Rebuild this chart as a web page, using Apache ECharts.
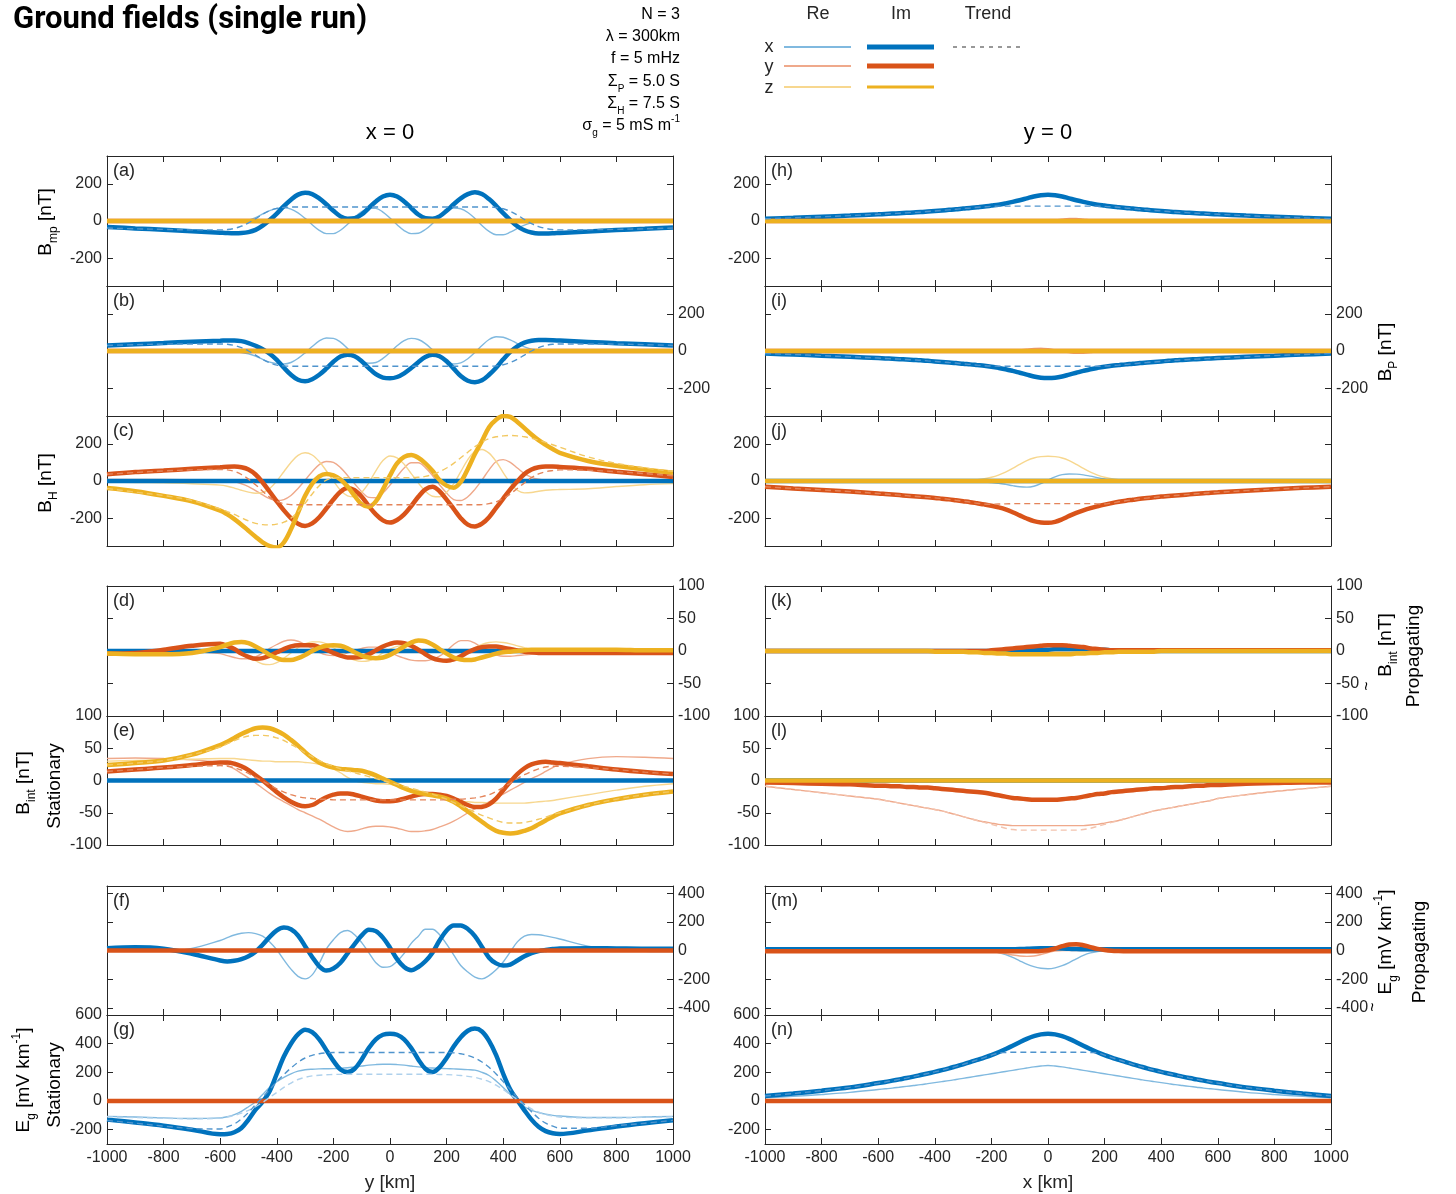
<!DOCTYPE html>
<html><head><meta charset="utf-8">
<script src="https://cdn.jsdelivr.net/npm/echarts@6/dist/echarts.min.js"></script>
<style>html,body{margin:0;padding:0;background:#fff}#c{width:1456px;height:1194px}</style>
</head><body><div id="c"></div>
<script>
// ---------------- DATA ----------------
const X = [-1000,-900,-800,-700,
-600,-575,-550,-525,-500,-475,-450,-425,-400,-375,-350,-325,
-300,-275,-250,-225,-200,-175,-150,-125,-100,-75,-50,-25,
0,25,50,75,100,125,150,175,200,225,250,275,
300,325,350,375,400,425,450,475,500,525,550,575,
600,
700,800,900,1000];
const ZERO = [0,0,0,0, 0,0,0,0,0,0,0,0,0,0,0,0, 0,0,0,0,0,0,0,0,0,0,0,0, 0,0,0,0,0,0,0,0,0,0,0,0, 0,0,0,0,0,0,0,0,0,0,0,0, 0, 0,0,0,0];

// (a) B_mp, x = 0
const a_ImX = [-32,-40,-47,-55,
-63,-65,-66,-65,-60,-48,-25,5,40,80,115,142,
152,145,122,90,55,25,12,15,35,70,105,132,
142,132,105,70,35,15,12,25,55,90,122,145,
155,145,118,82,42,5,-28,-50,-62,-67,-67,-66,
-64,
-57,-49,-42,-35];
const a_ReX = [-3,-3,-3,-3,
-3,-3,-2,0,5,18,38,56,67,71,64,44,
14,-20,-50,-68,-68,-50,-18,20,50,68,68,48,
16,-20,-52,-68,-66,-46,-14,24,54,70,66,46,
14,-24,-56,-74,-74,-60,-40,-22,-10,-3,0,0,
0,
0,0,0,0];
const a_TrX = [-38,-42,-45,-48,
-48,-46,-40,-28,-10,12,36,56,68,73,75,75,
75,75,75,75,75,75,75,75,75,75,75,75,
75,75,75,75,75,75,75,75,75,75,75,75,
75,75,75,73,66,52,32,8,-14,-30,-40,-46,
-48,
-47,-45,-42,-38];

// (b) B_P, x = 0
const b_ImX = [29,36,43,50,
55,57,57,53,43,28,10,-15,-48,-90,-128,-155,
-163,-152,-128,-95,-58,-30,-20,-28,-55,-92,-125,-143,
-147,-140,-120,-92,-60,-32,-20,-28,-55,-95,-135,-160,
-168,-158,-128,-90,-45,-5,25,45,55,59,59,58,
56,
49,42,36,29];
const b_ReX = [2,2,2,2,
0,-2,-4,-8,-15,-28,-45,-60,-68,-70,-62,-40,
-10,24,54,70,68,48,14,-22,-52,-66,-62,-40,
-8,28,56,68,62,40,6,-30,-58,-70,-64,-42,
-8,30,62,77,74,60,40,22,10,4,1,0,
0,
0,0,0,0];
const b_TrX = [30,34,37,38,
38,36,30,18,0,-22,-45,-64,-76,-80,-82,-82,
-82,-82,-82,-82,-82,-82,-82,-82,-82,-82,-82,-82,
-82,-82,-82,-82,-82,-82,-82,-82,-82,-82,-82,-82,
-82,-82,-82,-80,-74,-62,-44,-22,0,18,30,36,
38,
38,37,34,30];

// (c) B_H, x = 0
const c_ImY = [36,48,56,66,
74,77,78,74,62,35,-8,-58,-110,-158,-200,-230,
-242,-228,-195,-148,-100,-58,-38,-50,-85,-135,-180,-212,
-224,-210,-180,-135,-85,-45,-31,-55,-100,-150,-200,-235,
-245,-230,-195,-145,-95,-45,-2,38,62,74,78,78,
76,
66,50,36,22];
const c_ImZ = [-38,-55,-80,-110,
-160,-180,-205,-235,-268,-300,-330,-350,-358,-330,-260,-170,
-80,-15,25,38,30,8,-30,-80,-125,-138,-110,-45,
30,95,130,140,125,95,55,5,-25,-36,-5,65,
145,215,290,330,350,345,318,285,250,220,195,172,
152,
108,82,62,45];
const c_ReY = [8,8,8,6,
2,0,-5,-15,-30,-52,-75,-95,-105,-100,-78,-40,
5,50,88,105,100,72,30,-15,-58,-88,-90,-65,
-22,25,70,98,98,72,30,-20,-65,-100,-105,-85,
-45,5,60,105,115,100,70,40,20,10,5,3,
2,
1,0,0,0];
const c_ReZ = [-5,-8,-10,-15,
-22,-28,-38,-50,-60,-66,-62,-40,0,50,100,138,
152,140,105,55,0,-50,-80,-85,-60,-10,55,110,
135,125,90,40,-10,-55,-82,-85,-60,-15,50,115,
160,170,150,105,45,-10,-50,-64,-62,-55,-50,-47,
-46,
-42,-30,-20,-14];
const c_TrY = [36,46,54,60,
62,60,52,35,10,-20,-55,-88,-110,-122,-127,-128,
-128,-128,-128,-128,-128,-128,-128,-128,-128,-128,-128,-128,
-128,-128,-128,-128,-128,-128,-128,-128,-128,-128,-128,-128,
-128,-127,-122,-112,-95,-70,-40,-10,18,38,50,56,
60,
58,50,40,28];
const c_TrZ = [-40,-60,-78,-105,
-150,-165,-180,-198,-215,-228,-235,-236,-232,-222,-200,-165,
-120,-70,-25,5,15,18,18,18,18,18,18,18,
18,18,18,18,20,25,35,50,70,95,125,155,
185,210,228,238,243,245,243,238,230,220,208,195,
182,
130,95,70,52];

// (d) B_int propagating, x = 0
const d_ImZ = [-4,-5,-5,-3,
6,10,13,14,12,7,1,-6,-11,-14,-14,-11,
-6,0,5,8,9,8,4,-2,-7,-10,-11,-10,
-6,0,7,13,16,15,10,3,-4,-10,-13,-14,
-13,-10,-7,-4,-2,-1,0,1,2,2,2,2,
2,
2,2,1,1];
const d_ImY = [-4,-3,2,8,
11,8,3,-4,-9,-12,-11,-7,-2,3,7,9,
9,9,6,2,-3,-7,-10,-10,-9,-5,1,7,
11,13,12,8,2,-5,-11,-14,-15,-13,-8,-2,
3,6,7,7,5,3,1,-1,-2,-3,-3,-3,
-3,
-3,-3,-3,-3];
const d_ReY = [0,0,0,-1,
-4,-7,-10,-12,-12,-9,-3,4,10,15,17,15,
10,4,-2,-6,-7,-6,-3,1,4,6,6,3,
-2,-7,-11,-14,-15,-15,-13,-8,0,10,16,16,
12,5,-2,-6,-8,-8,-7,-6,-5,-4,-3,-2,
-2,
-1,0,0,0];
const d_ReZ = [-2,-2,-1,0,
2,2,0,-4,-9,-15,-20,-21,-18,-11,-3,5,
11,14,14,11,5,-2,-9,-14,-16,-15,-10,-3,
3,7,9,9,5,-2,-9,-15,-17,-15,-9,-2,
5,10,13,14,13,11,8,5,2,0,-1,-1,
-1,
0,0,0,0];

// (e) B_int stationary, x = 0
const e_ImZ = [24,27,31,40,
55,60,66,72,77,81,82,81,77,71,63,54,
44,35,28,23,20,18,17,16,15,12,8,3,
-2,-7,-12,-16,-19,-21,-23,-25,-28,-33,-40,-48,
-56,-64,-72,-78,-81,-82,-81,-78,-74,-68,-62,-56,
-51,
-38,-29,-22,-17];
const e_ImY = [14,17,20,24,
28,28,26,22,16,8,0,-9,-18,-26,-33,-38,
-40,-38,-32,-26,-22,-20,-20,-22,-25,-28,-31,-32,
-32,-31,-28,-25,-22,-21,-21,-22,-24,-28,-33,-38,
-41,-41,-37,-28,-15,-2,10,19,25,28,29,28,
27,
22,17,13,10];
const e_ReY = [34,35,34,32,
28,24,18,11,4,-4,-12,-20,-27,-33,-39,-45,
-50,-55,-60,-66,-72,-77,-79,-78,-75,-72,-71,-71,
-72,-74,-77,-79,-79,-78,-76,-72,-68,-63,-57,-50,
-44,-38,-33,-27,-21,-15,-9,-3,3,8,14,20,
25,
34,37,36,34];
const e_ReZ = [30,31,32,33,
34,34,34,33,32,31,30,30,29,29,29,29,
28,27,25,22,18,12,5,0,-3,-4,-5,-5,
-6,-8,-11,-14,-16,-18,-20,-23,-26,-29,-32,-33,
-34,-34,-35,-35,-35,-35,-35,-35,-34,-33,-32,-31,
-29,
-22,-15,-9,-5];
const e_TrImZ = [24,27,31,40,
52,57,62,66,69,70,70,69,66,62,56,50,
43,37,31,26,22,18,15,12,9,6,3,0,
-3,-6,-9,-12,-15,-18,-21,-25,-29,-34,-39,-44,
-49,-54,-58,-62,-65,-66,-66,-65,-63,-60,-57,-53,
-50,
-38,-29,-22,-17];
const e_TrImY = [14,17,20,22,
23,22,20,16,11,5,-1,-7,-13,-18,-22,-25,
-27,-28,-29,-29,-30,-30,-30,-30,-30,-30,-30,-30,
-30,-30,-30,-30,-30,-30,-30,-30,-30,-29,-29,-28,
-27,-25,-22,-17,-11,-4,3,9,14,18,21,22,
22,
20,17,13,10];

// (f) E_g propagating, x = 0
const f_ImX = [16,22,12,-23,
-70,-77,-72,-60,-40,-8,40,95,140,160,148,105,
30,-45,-110,-140,-125,-85,-20,45,105,145,135,90,
20,-60,-115,-138,-115,-75,-15,70,140,175,175,150,
100,25,-50,-90,-105,-98,-70,-40,-18,-4,4,10,
14,
16,14,12,12];
const f_ReX = [0,-3,-5,15,
70,90,108,120,125,118,100,60,5,-65,-130,-180,
-198,-170,-90,10,75,125,140,110,55,-15,-85,-117,
-112,-75,-20,50,100,148,148,110,45,-30,-105,-150,
-185,-198,-175,-135,-80,-10,60,100,112,110,102,92,
80,
30,5,-5,-7];

// (g) E_g stationary, x = 0
const g_ImX = [-130,-150,-172,-200,
-232,-230,-218,-188,-130,-60,-5,70,190,310,400,465,
497,480,430,355,280,220,202,225,290,370,430,462,
470,462,430,370,290,225,202,235,300,380,445,490,
505,485,420,320,190,80,5,-65,-130,-180,-210,-225,
-230,
-205,-178,-155,-135];
const g_ReX = [-107,-112,-118,-122,
-118,-110,-95,-72,-40,-5,45,95,135,165,190,208,
218,222,224,225,226,228,232,238,244,250,254,256,
256,254,250,244,238,233,230,228,226,224,222,219,
215,200,178,140,95,45,-5,-40,-65,-80,-92,-100,
-105,
-115,-115,-112,-107];
const g_TrImX = [-135,-155,-175,-192,
-195,-180,-160,-125,-80,-25,25,80,135,185,230,270,
300,318,330,336,338,338,338,338,338,338,338,338,
338,338,338,338,338,338,338,338,338,336,330,318,
300,272,235,188,135,80,25,-25,-75,-120,-155,-175,
-190,
-190,-172,-155,-135];
const g_TrReX = [-110,-115,-120,-125,
-120,-112,-100,-85,-65,-40,-10,25,60,95,125,150,
165,175,180,183,185,186,187,187,187,187,187,187,
187,187,187,187,187,187,186,185,184,182,178,172,
165,152,135,110,80,45,10,-25,-55,-78,-95,-105,
-112,
-118,-118,-114,-110];

// (h) B_mp, y = 0
const h_ImX = [12,17,23,29,
36,38,40,42,44,46,48,51,54,57,60,63,
67,70,74,78,83,88,95,103,112,122,132,139,
141,139,132,122,112,103,95,88,83,78,74,70,
67,63,60,57,54,51,48,46,44,42,40,38,
36,
29,23,17,12];
const h_TrImX = [12,17,23,29,
36,38,40,42,44,46,48,51,54,57,60,63,
67,70,74,77,79,80,80,80,80,80,80,80,
80,80,80,80,80,80,80,80,79,77,74,70,
67,63,60,57,54,51,48,46,44,42,40,38,
36,
29,23,17,12];
const h_ReY = [0,0,0,0,
0,0,0,0,0,0,0,0,0,0,0,0,
0,0,0,0,0,0,0,0,-2,-4,-5,-3,
0,5,10,14,14,10,5,2,0,0,0,0,
0,0,0,0,0,0,0,0,0,0,0,0,
0,
0,0,0,0];

// (i) B_P, y = 0
const i_ImX = [-14,-19,-25,-31,
-38,-40,-42,-44,-46,-48,-50,-53,-56,-59,-62,-65,
-69,-72,-76,-80,-85,-91,-98,-107,-117,-127,-137,-144,
-146,-144,-137,-127,-117,-107,-98,-91,-85,-80,-76,-72,
-69,-65,-62,-59,-56,-53,-50,-48,-46,-44,-42,-40,
-38,
-31,-25,-19,-14];
const i_TrImX = [-14,-19,-25,-31,
-38,-40,-42,-44,-46,-48,-50,-53,-56,-59,-62,-65,
-69,-72,-76,-79,-81,-82,-82,-82,-82,-82,-82,-82,
-82,-82,-82,-82,-82,-82,-82,-82,-81,-79,-76,-72,
-69,-65,-62,-59,-56,-53,-50,-48,-46,-44,-42,-40,
-38,
-31,-25,-19,-14];
const i_ReY = [0,0,0,0,
0,0,0,0,0,0,0,0,0,0,0,0,
0,0,0,0,0,0,1,3,6,10,14,15,
12,6,-2,-9,-13,-12,-8,-4,-1,0,0,0,
0,0,0,0,0,0,0,0,0,0,0,0,
0,
0,0,0,0];

// (j) B_H, y = 0
const j_ImY = [-31,-40,-48,-57,
-67,-70,-73,-76,-79,-82,-85,-88,-91,-95,-99,-104,
-109,-114,-120,-126,-133,-142,-153,-168,-185,-202,-216,-223,
-225,-220,-206,-188,-172,-158,-146,-136,-127,-119,-112,-106,
-101,-96,-92,-88,-84,-81,-78,-75,-72,-69,-66,-63,
-61,
-52,-44,-37,-31];
const j_TrY = [-31,-40,-48,-57,
-67,-70,-73,-76,-79,-82,-85,-88,-91,-95,-99,-104,
-109,-114,-120,-124,-125,-124,-123,-122,-122,-122,-122,-122,
-122,-122,-122,-122,-122,-122,-122,-123,-124,-119,-112,-106,
-101,-96,-92,-88,-84,-81,-78,-75,-72,-69,-66,-63,
-61,
-52,-44,-37,-31];
const j_ReZ = [0,0,0,0,
0,0,0,0,0,0,0,0,0,0,0,1,
2,4,7,12,20,32,48,68,90,110,124,131,
133,131,124,110,90,68,48,32,20,12,7,4,
2,1,0,0,0,0,0,0,0,0,0,0,
0,
0,0,0,0];
const j_ReX = [0,0,0,0,
0,0,0,0,0,0,0,0,0,0,0,0,
-1,-2,-3,-5,-8,-12,-18,-25,-31,-33,-28,-14,
5,22,34,38,37,33,26,18,11,5,2,1,
0,0,0,0,0,0,0,0,0,0,0,0,
0,
0,0,0,0];

// (k) B_int propagating, y = 0
const k_ImY = [0,0,0,0,
0,0,0,0,0,0,0,0,0,0,0,0,
0,0,0,0,1,2,3,4,5,6,7,8,
9,9,9,8,7,6,4,3,2,1,1,1,
1,1,1,1,1,1,1,1,1,1,1,1,
1,
1,1,1,1];
const k_ImZ = [0,0,0,0,
0,0,0,0,0,0,0,0,-1,-1,-1,-1,
-1,-2,-2,-3,-3,-4,-4,-5,-5,-5,-5,-5,
-5,-5,-5,-5,-4,-4,-3,-3,-2,-2,-1,-1,
-1,-1,-1,-1,0,0,0,0,0,0,0,0,
0,
0,0,0,0];
const k_ImX = [0,0,0,0,
0,0,0,0,0,0,0,0,0,0,0,0,
0,0,0,0,0,0,0,0,0,1,1,2,
2,3,3,3,3,3,3,2,2,1,1,0,
0,0,0,0,0,0,0,0,0,0,0,0,
0,
0,0,0,0];

// (l) B_int stationary, y = 0
const l_ImY = [-3,-4,-5,-6,
-8,-8,-9,-9,-10,-10,-11,-11,-12,-13,-14,-15,
-16,-17,-18,-19,-21,-23,-25,-27,-28,-29,-30,-30,
-30,-30,-29,-28,-27,-25,-23,-21,-20,-18,-17,-16,
-15,-14,-13,-12,-12,-11,-10,-10,-9,-8,-8,-7,
-7,
-5,-4,-3,-3];
const l_ReY = [-9,-14,-19,-24,
-29,-31,-33,-35,-37,-39,-41,-43,-45,-47,-50,-53,
-56,-59,-62,-64,-66,-68,-69,-70,-70,-70,-70,-70,
-70,-70,-70,-70,-70,-70,-69,-68,-66,-64,-62,-59,
-56,-53,-50,-47,-45,-43,-41,-39,-37,-35,-33,-31,
-28,
-22,-17,-13,-9];
const l_TrReY = [-9,-14,-19,-24,
-29,-31,-33,-35,-37,-39,-41,-43,-45,-47,-50,-53,
-56,-59,-62,-65,-68,-71,-74,-76,-77,-77,-77,-77,
-77,-77,-77,-77,-77,-76,-74,-71,-68,-65,-62,-59,
-56,-53,-50,-47,-45,-43,-41,-39,-37,-35,-33,-31,
-28,
-22,-17,-13,-9];

// (m) E_g propagating, y = 0
const m_ReX = [0,0,0,0,
0,0,0,0,0,0,0,0,0,0,0,0,
0,0,-1,-3,-6,-14,-28,-48,-72,-95,-113,-124,
-127,-121,-106,-84,-58,-34,-17,-7,-2,0,0,0,
0,0,0,0,0,0,0,0,0,0,0,0,
0,
0,0,0,0];
const m_ImY = [-6,-6,-6,-6,
-6,-6,-6,-6,-6,-6,-6,-6,-6,-6,-6,-6,
-6,-6,-6,-6,-6,-6,-6,-6,-6,-6,-5,-3,
2,14,30,42,44,37,24,11,3,-2,-4,-5,
-6,-6,-6,-6,-6,-6,-6,-6,-6,-6,-6,-6,
-6,
-6,-6,-6,-6];
const m_ReY = [0,0,0,0,
0,0,0,0,0,0,0,0,0,0,0,0,
0,0,-2,-4,-8,-14,-22,-31,-38,-41,-38,-28,
-14,-4,0,0,0,0,0,0,0,0,0,0,
0,0,0,0,0,0,0,0,0,0,0,0,
0,
0,0,0,0];
const m_ImX = [8,8,8,8,
8,8,8,8,8,8,8,8,8,8,8,8,
8,8,8,8,8,8,8,9,10,12,14,15,
15,15,14,12,10,9,8,8,8,8,8,8,
8,8,8,8,8,8,8,8,8,8,8,8,
8,
8,8,8,8];

// (n) E_g stationary, y = 0
const n_ImX = [35,52,72,95,
125,133,142,151,160,170,181,192,203,215,228,242,
256,271,287,303,320,340,362,385,410,433,452,465,
470,465,452,433,410,385,362,340,320,303,287,271,
256,242,228,215,203,192,181,170,160,151,142,133,
125,
95,72,52,35];
const n_TrImX = [35,52,72,95,
125,133,142,151,160,170,181,192,203,215,228,242,
256,271,287,303,320,335,338,340,340,340,340,340,
340,340,340,340,340,340,338,335,320,303,287,271,
256,242,228,215,203,192,181,170,160,151,142,133,
125,
95,72,52,35];
const n_ReX = [22,32,45,60,
80,85,90,96,102,108,114,121,128,135,142,150,
158,166,174,182,190,198,206,214,222,230,238,244,
248,244,238,230,222,214,206,198,190,182,174,166,
158,150,142,135,128,121,114,108,102,96,90,85,
80,
60,45,32,22];

// ---------------- STYLE / LAYOUT ----------------
const FONT = '"Liberation Sans", Arial, Helvetica, sans-serif';
const INK = '#262626';
const COL = {reX:'#80B9DF', reY:'#EFA98B', reZ:'#F7D78F', imX:'#0072BD', imY:'#D95319', imZ:'#EDB120',
  trImX:'#4F94CD', trImY:'#E4845A', trImZ:'#F2C862', trReX:'#AFD1EC', trReY:'#F3C3AE', trReZ:'#FAE3B0'};
const COLS = [107, 765];
const ROWS = [[156,130],[286,130],[416,130],[586,130],[716,129],[886,129],[1015,129]];
const W = 566;

const T350 = [-200,0,200], T100 = [-100,-50,0,50,100], T450 = [-400,-200,0,200,400], T600 = [-200,0,200,400,600];
const PANELS = [
 {tag:'(a)', c:0, r:0, rng:[-350,350], ticks:T350, side:'left',  lines:[[a_ReX,'reX'],[ZERO,'reY'],[ZERO,'reZ'],[a_ImX,'imX'],[ZERO,'imY'],[ZERO,'imZ'],[a_TrX,'trImX']]},
 {tag:'(b)', c:0, r:1, rng:[-350,350], ticks:T350, side:'right', lines:[[b_ReX,'reX'],[ZERO,'reY'],[ZERO,'reZ'],[b_ImX,'imX'],[ZERO,'imY'],[ZERO,'imZ'],[b_TrX,'trImX']]},
 {tag:'(c)', c:0, r:2, rng:[-350,350], ticks:T350, side:'left',  lines:[[ZERO,'reX'],[c_ReY,'reY'],[c_ReZ,'reZ'],[ZERO,'imX'],[c_ImY,'imY'],[c_ImZ,'imZ'],[c_TrY,'trImY'],[c_TrZ,'trImZ']]},
 {tag:'(d)', c:0, r:3, rng:[-100,100], ticks:T100, side:'right', lines:[[ZERO,'reX'],[d_ReY,'reY'],[d_ReZ,'reZ'],[ZERO,'imX'],[d_ImY,'imY'],[d_ImZ,'imZ']]},
 {tag:'(e)', c:0, r:4, rng:[-100,100], ticks:T100, side:'left',  lines:[[ZERO,'reX'],[e_ReY,'reY'],[e_ReZ,'reZ'],[ZERO,'imX'],[e_ImY,'imY'],[e_ImZ,'imZ'],[e_TrImY,'trImY'],[e_TrImZ,'trImZ']]},
 {tag:'(f)', c:0, r:5, rng:[-450,450], ticks:T450, side:'right', lines:[[f_ReX,'reX'],[ZERO,'reY'],[f_ImX,'imX'],[ZERO,'imY']]},
 {tag:'(g)', c:0, r:6, rng:[-300,600], ticks:T600, side:'left',  lines:[[g_ReX,'reX'],[ZERO,'reY'],[g_ImX,'imX'],[ZERO,'imY'],[g_TrReX,'trReX'],[g_TrImX,'trImX']], xname:'y [km]'},
 {tag:'(h)', c:1, r:0, rng:[-350,350], ticks:T350, side:'left',  lines:[[ZERO,'reX'],[h_ReY,'reY'],[ZERO,'reZ'],[h_ImX,'imX'],[ZERO,'imY'],[ZERO,'imZ'],[h_TrImX,'trImX']]},
 {tag:'(i)', c:1, r:1, rng:[-350,350], ticks:T350, side:'right', lines:[[ZERO,'reX'],[i_ReY,'reY'],[ZERO,'reZ'],[i_ImX,'imX'],[ZERO,'imY'],[ZERO,'imZ'],[i_TrImX,'trImX']]},
 {tag:'(j)', c:1, r:2, rng:[-350,350], ticks:T350, side:'left',  lines:[[j_ReX,'reX'],[ZERO,'reY'],[j_ReZ,'reZ'],[ZERO,'imX'],[j_ImY,'imY'],[ZERO,'imZ'],[j_TrY,'trImY']]},
 {tag:'(k)', c:1, r:3, rng:[-100,100], ticks:T100, side:'right', lines:[[ZERO,'reX'],[ZERO,'reY'],[ZERO,'reZ'],[k_ImX,'imX'],[k_ImY,'imY'],[k_ImZ,'imZ']]},
 {tag:'(l)', c:1, r:4, rng:[-100,100], ticks:T100, side:'left',  lines:[[ZERO,'reX'],[l_ReY,'reY'],[ZERO,'reZ'],[ZERO,'imX'],[l_ImY,'imY'],[ZERO,'imZ'],[l_TrReY,'trReY']]},
 {tag:'(m)', c:1, r:5, rng:[-450,450], ticks:T450, side:'right', lines:[[m_ReX,'reX'],[m_ReY,'reY'],[m_ImX,'imX'],[m_ImY,'imY']]},
 {tag:'(n)', c:1, r:6, rng:[-300,600], ticks:T600, side:'left',  lines:[[n_ReX,'reX'],[ZERO,'reY'],[n_ImX,'imX'],[ZERO,'imY'],[n_TrImX,'trImX']], xname:'x [km]'}
];

const grid = [], xAxis = [], yAxis = [], series = [];
const plain = v => String(v);
PANELS.forEach((p, gi) => {
  grid.push({left: COLS[p.c], top: ROWS[p.r][0], width: W, height: ROWS[p.r][1], containLabel: false});
  const bottomRow = p.r === 6;
  const axLine = {show:true, onZero:false, lineStyle:{color:INK, width:1}};
  xAxis.push({type:'value', gridIndex:gi, position:'bottom', min:-1000, max:1000, interval:200,
    axisLine:axLine, axisTick:{show:true, inside:true, length:6, lineStyle:{color:INK}},
    axisLabel:{show:bottomRow, fontSize:16, color:INK, fontFamily:FONT, margin:6, showMinLabel:true, showMaxLabel:true, formatter:plain},
    splitLine:{show:false},
    name: p.xname || '', nameLocation:'middle', nameGap:29, nameTextStyle:{fontSize:19, color:INK, fontFamily:FONT}});
  xAxis.push({type:'value', gridIndex:gi, position:'top', min:-1000, max:1000, interval:200,
    axisLine:axLine, axisTick:{show:true, inside:true, length:6, lineStyle:{color:INK}},
    axisLabel:{show:false}, splitLine:{show:false}});
  ['left','right'].forEach(pos => {
    yAxis.push({type:'value', gridIndex:gi, position:pos, min:p.rng[0], max:p.rng[1],
      axisLine:axLine,
      axisTick:{show:true, inside:true, length:6, customValues:p.ticks, lineStyle:{color:INK}},
      axisLabel:{show: pos === p.side, customValues:p.ticks, fontSize:16, color:INK, fontFamily:FONT, margin:5, showMinLabel:true, showMaxLabel:true, formatter:plain},
      splitLine:{show:false}});
  });
  p.lines.forEach(([arr, kind]) => {
    if (arr.length !== X.length) console.error('bad length', p.tag, kind, arr.length);
    const isIm = kind.startsWith('im'), isTr = kind.startsWith('tr');
    series.push({type:'line', xAxisIndex: gi*2, yAxisIndex: gi*2, silent:true, showSymbol:false, symbol:'none',
      smooth:0.35, clip:true, z: isTr ? 4 : (isIm ? 3 : 2),
      data: X.map((x, i) => [x, arr[i]]),
      lineStyle:{color:COL[kind], width: isIm ? 4.5 : 1.4, type: isTr ? [6,4] : 'solid', cap:'butt'}});
  });
});

// ---------------- TEXT ----------------
const G = [];
function txt(x, y, text, o = {}) {
  G.push({type:'text', x, y, rotation: o.rot || 0, silent:true, z:100,
    style:{text, fill:o.fill || '#000', font: o.font || ('16px ' + FONT), align:o.align || 'left', verticalAlign:'middle', rich:o.rich}});
}
const rich = (fs) => ({
  n:{fontSize:fs, fontFamily:FONT, lineHeight:fs+8, verticalAlign:'middle', fill:'#000'},
  s:{fontSize:Math.round(fs*0.62), fontFamily:FONT, lineHeight:fs+8, verticalAlign:'bottom', fill:'#000'},
  p:{fontSize:Math.round(fs*0.62), fontFamily:FONT, lineHeight:fs+8, verticalAlign:'top', fill:'#000'}
});
txt(13, 20, 'Ground fields (single run)', {font:'bold 31px Roboto, "Liberation Sans", sans-serif'});
// parameters
txt(680, 15, '{n|N = 3}', {align:'right', rich:rich(16)});
txt(680, 37, '{n|λ = 300km}', {align:'right', rich:rich(16)});
txt(680, 59, '{n|f = 5 mHz}', {align:'right', rich:rich(16)});
txt(680, 82, '{n|Σ}{s|P}{n| = 5.0 S}', {align:'right', rich:rich(16)});
txt(680, 104, '{n|Σ}{s|H}{n| = 7.5 S}', {align:'right', rich:rich(16)});
txt(680, 126, '{n|σ}{s|g}{n| = 5 mS m}{p|-1}', {align:'right', rich:rich(16)});
// column titles
txt(390, 133, 'x = 0', {align:'center', font:'22px ' + FONT});
txt(1048, 133, 'y = 0', {align:'center', font:'22px ' + FONT});
// panel tags
PANELS.forEach(p => txt(COLS[p.c] + 6, ROWS[p.r][0] + 15, p.tag, {font:'18px ' + FONT, fill:INK}));
// axis titles (rotated)
const R = Math.PI / 2;
txt(46, 222, '{n|B}{s|mp}{n| [nT]}', {align:'center', rot:R, rich:rich(19)});
txt(46, 483, '{n|B}{s|H}{n| [nT]}', {align:'center', rot:R, rich:rich(19)});
txt(24, 783, '{n|B}{s|int}{n| [nT]}', {align:'center', rot:R, rich:rich(19)});
txt(55, 786, 'Stationary', {align:'center', rot:R, font:'19px ' + FONT});
txt(24, 1080, '{n|E}{s|g}{n| [mV km}{p|-1}{n|]}', {align:'center', rot:R, rich:rich(19)});
txt(55, 1085, 'Stationary', {align:'center', rot:R, font:'19px ' + FONT});
txt(1386, 352, '{n|B}{s|P}{n| [nT]}', {align:'center', rot:R, rich:rich(19)});
txt(1386, 645, '{n|B}{s|int}{n| [nT]}', {align:'center', rot:R, rich:rich(19)});
txt(1368, 686, '~', {align:'center', rot:R, font:'16px ' + FONT});
txt(1414, 656, 'Propagating', {align:'center', rot:R, font:'19px ' + FONT});
txt(1386, 942, '{n|E}{s|g}{n| [mV km}{p|-1}{n|]}', {align:'center', rot:R, rich:rich(19)});
txt(1374, 1007, '~', {align:'center', rot:R, font:'16px ' + FONT});
txt(1420, 952, 'Propagating', {align:'center', rot:R, font:'19px ' + FONT});
// legend
txt(818, 14, 'Re', {align:'center', font:'18px ' + FONT, fill:INK});
txt(901, 14, 'Im', {align:'center', font:'18px ' + FONT, fill:INK});
txt(988, 14, 'Trend', {align:'center', font:'18px ' + FONT, fill:INK});
txt(769, 47, 'x', {align:'center', font:'18px ' + FONT, fill:INK});
txt(769, 67, 'y', {align:'center', font:'18px ' + FONT, fill:INK});
txt(769, 88, 'z', {align:'center', font:'18px ' + FONT, fill:INK});
function seg(x1, y, x2, color, w, dash) {
  G.push({type:'line', silent:true, z:100, shape:{x1, y1:y, x2, y2:y}, style:{stroke:color, lineWidth:w, lineDash:dash || null}});
}
seg(784, 47, 851, COL.reX, 2.2); seg(784, 66, 851, COL.reY, 2.2); seg(784, 87, 851, COL.reZ, 2.2);
seg(867, 47, 934, COL.imX, 5); seg(867, 66, 934, COL.imY, 5); seg(867, 87, 934, COL.imZ, 3);
seg(953, 47, 1022, '#333', 1.2, [4,5]);

const chart = echarts.init(document.getElementById('c'), null, {renderer:'canvas'});
chart.setOption({animation:false, backgroundColor:'#fff', grid, xAxis, yAxis, series, graphic:G});
</script>
</body></html>
